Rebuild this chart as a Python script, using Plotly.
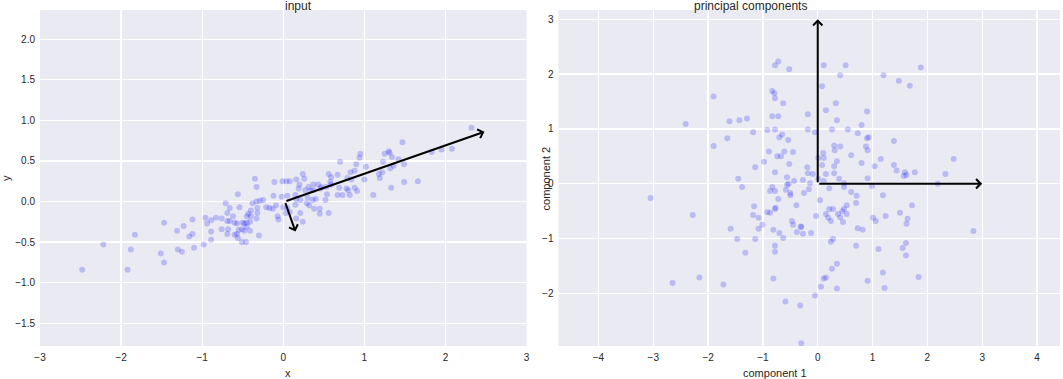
import plotly.graph_objects as go

# ---------------- data ----------------
input_x = [-1.47, -1.23, -1.12, -1.31, -1.16, -1.12, -1.10, -1.83, -2.22, -1.88, -1.51, -1.30, -1.25, -1.47, -1.92, -2.48,
           -0.56, -0.71, -0.66, -0.54, -0.62, -0.69, -0.96, -0.89, -0.83, -0.76, -0.69, -0.66, -0.60, -0.57, -0.50, -0.94,
           -0.76, -0.68, -0.55, -0.51, -0.89, -0.69, -0.60, -0.56, -0.57, -0.89, -0.98, -0.51,
           -0.35, -0.33, -0.11, -0.01, 0.04, 0.08, -0.12, -0.02, 0.05, -0.25, -0.29, -0.33, -0.38, -0.21, -0.17, -0.13,
           -0.09, 0.00, 0.03, 0.05, -0.32, -0.32, -0.40, -0.43, -0.40, -0.45, -0.33, -0.41, -0.45, -0.48, -0.45, -0.48,
           -0.07, -0.06, -0.41, -0.30, -0.46, 0.08,
           0.95, 0.94, 0.70, 0.90, 0.88, 0.83, 0.56, 0.67, 0.24, 0.26, 0.16, 0.59, 0.58, 0.79, 0.84, 0.31, 0.37, 0.43,
           0.47, 0.53, 0.59, 0.20, 0.19, 0.27, 0.34, 0.37, 0.46, 0.69, 0.78, 0.80, 0.88, 0.91, 0.54, 0.67, 0.73, 0.82,
           0.15, 0.16, 0.21, 0.30, 0.36, 0.40, 0.52, 0.29, 0.32, 0.38, 0.45, 0.15, 0.21, 0.45, 0.56, 0.16, 0.24,
           2.32, 1.47, 1.30, 1.25, 1.31, 1.34, 1.42, 1.23, 1.49, 1.36, 1.32, 1.83, 1.95, 2.08, 1.02, 1.00, 1.22, 1.18,
           1.19, 1.33, 1.49, 1.66, 1.11]
input_y = [-0.26, -0.30, -0.22, -0.36, -0.43, -0.40, -0.57, -0.41, -0.53, -0.59, -0.64, -0.59, -0.62, -0.75, -0.84, -0.84,
           0.09, -0.02, -0.08, -0.07, -0.18, -0.14, -0.20, -0.23, -0.20, -0.21, -0.24, -0.24, -0.26, -0.27, -0.26, -0.27,
           -0.34, -0.34, -0.35, -0.34, -0.37, -0.40, -0.41, -0.45, -0.40, -0.47, -0.53, -0.50,
           0.28, 0.18, 0.24, 0.25, 0.25, 0.25, 0.07, 0.06, 0.07, 0.02, 0.01, 0.00, -0.02, -0.07, -0.08, -0.09,
           -0.05, -0.07, -0.14, -0.08, -0.08, -0.14, -0.11, -0.15, -0.18, -0.18, -0.21, -0.25, -0.26, -0.27, -0.31, -0.36,
           -0.18, -0.22, -0.36, -0.42, -0.50, -0.13,
           0.59, 0.54, 0.49, 0.46, 0.38, 0.36, 0.34, 0.33, 0.34, 0.28, 0.27, 0.30, 0.24, 0.29, 0.27, 0.18, 0.21, 0.21,
           0.18, 0.18, 0.21, 0.21, 0.16, 0.14, 0.14, 0.14, 0.16, 0.17, 0.16, 0.14, 0.17, 0.13, 0.09, 0.08, 0.08, 0.08,
           0.08, 0.03, 0.02, 0.05, 0.02, 0.03, 0.02, -0.02, -0.05, -0.09, -0.09, -0.04, -0.14, -0.15, -0.14, -0.21, -0.25,
           0.91, 0.73, 0.62, 0.59, 0.60, 0.55, 0.52, 0.49, 0.46, 0.44, 0.41, 0.61, 0.64, 0.65, 0.43, 0.27, 0.36, 0.34,
           0.29, 0.17, 0.24, 0.25, 0.08]

pc_x = [-1.90, -2.41, -1.61, -1.43, -1.29, -1.18, -1.65, -1.90, -1.14, -1.45, -1.38, -3.05,
        -0.72, -0.78, -0.52, 0.11, 0.51, 0.41, 0.08, -0.83, -0.79, -0.78, -0.63, 0.33, 0.15, -0.18, 0.90, 0.35,
        -0.83, -0.72, 0.80, -0.92, -0.78, -0.18, -0.05, 0.26, 0.55, 0.73, 0.93, 0.90, -0.65, -0.70, -0.54, 0.30,
        0.41, 0.31, 0.88, 0.91, -0.89, -0.61, -0.45, -0.74, -0.67, 0.10, 0.01, 0.11, 0.61, 0.35, 0.80, -0.98,
        -0.78, -0.52, -0.19, 0.08, 0.30, -0.18, -0.09, 0.15, 0.30, -0.56, -0.43, -0.27, -0.14, 0.01, 0.11, 0.39,
        0.48, -0.56, -0.53, -0.83, -0.87, -0.78, -0.58, -0.50, -0.50, -0.25, -0.16, 0.21, 0.48, 0.61, 0.71, -0.72, 0.04,
        1.88, 1.20, 1.48, 1.68, 1.39, 1.15, 1.04, 1.39, 1.44, 1.59, 1.57, 1.62, 1.77, 2.48, 2.33, 2.19, 0.91, 0.99, 1.19,
        -2.28, -1.59, -1.47, -1.32, -2.16, -2.65, -1.72,
        0.70, 0.53, -0.39, -1.16, -0.92, -0.87, -0.78, -0.77, -1.18, -1.08, -1.01, -1.08, -1.14, 0.21, 0.28, 0.15,
        0.19, 0.24, 0.37, 0.41, 0.45, 0.48, 0.53, 0.46, -0.03, -0.47, -0.45, -0.30, -0.31, -0.38, -0.27, -0.12,
        -0.81, -0.70, -0.63, 0.73, 0.82, 0.28, 0.24, 0.70, -0.78, -0.78, 0.35, 0.26, 0.11, 0.15, -0.81, 0.91,
        0.06, 0.35, -0.05, -0.59, -0.32, -0.30,
        1.72, 1.50, 1.01, 1.06, 1.24, 1.64, 1.62, 2.84, 1.61, 1.55, 1.11, 1.61, 1.19, 1.84, 1.22]
pc_y = [1.59, 1.09, 1.14, 1.16, 1.19, 0.94, 0.83, 0.69, 0.30, 0.09, -0.06, -0.26,
        2.23, 2.16, 2.09, 2.16, 2.16, 1.98, 1.78, 1.69, 1.65, 1.56, 1.47, 1.47, 1.34, 1.27, 1.32, 1.16,
        1.23, 1.23, 1.07, 0.98, 0.99, 0.99, 0.94, 0.99, 0.99, 0.92, 0.85, 0.83, 0.90, 0.85, 0.80, 0.70,
        0.68, 0.61, 0.68, 0.61, 0.59, 0.59, 0.58, 0.50, 0.50, 0.56, 0.47, 0.47, 0.52, 0.41, 0.38, 0.40,
        0.21, 0.36, 0.30, 0.34, 0.32, 0.19, 0.18, 0.18, 0.19, 0.12, 0.05, 0.07, 0.01, 0.09, 0.05, 0.09,
        0.01, -0.02, 0.00, -0.06, -0.13, -0.13, -0.11, -0.17, -0.21, -0.17, -0.10, -0.08, -0.06, -0.15, -0.22, -0.28, -0.30,
        2.12, 1.98, 1.88, 1.79, 0.78, 0.45, 0.32, 0.34, 0.24, 0.21, 0.14, 0.16, 0.21, 0.45, 0.18, 0.00, 0.10, -0.04, -0.21,
        -0.57, -0.82, -1.01, -1.26, -1.71, -1.81, -1.84,
        -0.35, -0.39, -0.39, -0.41, -0.52, -0.53, -0.46, -0.44, -0.57, -0.62, -0.75, -0.82, -1.01, -0.46, -0.46, -0.55,
        -0.62, -0.68, -0.55, -0.61, -0.50, -0.46, -0.55, -0.70, -0.59, -0.68, -0.75, -0.79, -0.78, -0.88, -0.91, -0.90,
        -0.84, -0.90, -0.99, -0.81, -0.84, -1.01, -1.06, -1.13, -1.13, -1.24, -1.46, -1.55, -1.73, -1.71, -1.73, -1.77,
        -1.88, -1.91, -2.04, -2.15, -2.22, -2.91,
        -0.39, -0.53, -0.62, -0.68, -0.59, -0.64, -0.73, -0.86, -1.08, -1.17, -1.19, -1.31, -1.62, -1.70, -1.90]

# arrows: (tail_x, tail_y, head_x, head_y)
input_arrows = [(0.02, 0.0, 2.48, 0.86), (0.02, 0.0, 0.15, -0.37)]
pc_arrows = [(0, 0, 0, 3), (0, 0, 3, 0)]

left_xticks = [-3, -2, -1, 0, 1, 2, 3]
left_yticks = [-1.5, -1.0, -0.5, 0.0, 0.5, 1.0, 1.5, 2.0]
right_xticks = [-4, -3, -2, -1, 0, 1, 2, 3, 4]
right_yticks = [-3, -2, -1, 0, 1, 2, 3]

# ---------------- figure ----------------
W, H = 1063, 379
ML, MR, MT, MB = 40, 0, 10, 33
pw = W - ML - MR
ph = H - MT - MB
BG = "#EAEAF2"
TXT = "#262626"
FONT = "Liberation Sans, Arial, sans-serif"

fig = go.Figure()
marker = dict(size=6, color="rgba(0,0,255,0.2)", line=dict(width=0))
fig.add_trace(go.Scatter(x=input_x, y=input_y, mode="markers", marker=marker,
                         xaxis="x", yaxis="y", showlegend=False, hoverinfo="skip"))
fig.add_trace(go.Scatter(x=pc_x, y=pc_y, mode="markers", marker=marker,
                         xaxis="x2", yaxis="y2", showlegend=False, hoverinfo="skip"))

annotations = []
for (tx, ty, hx, hy) in input_arrows:
    annotations.append(dict(x=hx, y=hy, ax=tx, ay=ty, xref="x", yref="y", axref="x", ayref="y",
                            text="", showarrow=True, arrowhead=4, arrowsize=0.9, arrowwidth=2,
                            arrowcolor="black", standoff=0, startstandoff=0))
for (tx, ty, hx, hy) in pc_arrows:
    annotations.append(dict(x=hx, y=hy, ax=tx, ay=ty, xref="x2", yref="y2", axref="x2", ayref="y2",
                            text="", showarrow=True, arrowhead=4, arrowsize=0.9, arrowwidth=2,
                            arrowcolor="black", standoff=0, startstandoff=0))

d1 = [0, (528 - ML) / pw]
d2 = [(560 - ML) / pw, 1]


def center(d):
    return (d[0] + d[1]) / 2


tfont = dict(family=FONT, size=11, color=TXT)
annotations += [
    dict(text="input", x=center(d1), y=1, xref="paper", yref="paper", yanchor="bottom",
         yshift=-5, showarrow=False, font=dict(family=FONT, size=12, color=TXT)),
    dict(text="principal components", x=center(d2), y=1, xref="paper", yref="paper", yanchor="bottom",
         yshift=-5, showarrow=False, font=dict(family=FONT, size=12, color=TXT)),
    dict(text="x", x=center(d1), y=0, xref="paper", yref="paper", yanchor="middle",
         yshift=-27, showarrow=False, font=tfont),
    dict(text="component 1", x=center(d2), y=0, xref="paper", yref="paper", yanchor="middle",
         yshift=-27, showarrow=False, font=tfont),
    dict(text="y", x=d1[0], y=0.5, xref="paper", yref="paper", xanchor="center",
         xshift=-34, textangle=-90, showarrow=False, font=tfont),
    dict(text="component 2", x=d2[0], y=0.5, xref="paper", yref="paper", xanchor="center",
         xshift=-12, textangle=-90, showarrow=False, font=tfont),
]

axis_common = dict(showgrid=True, gridcolor="white", gridwidth=1.3, zeroline=False, showline=False,
                   ticks="", tickfont=dict(family=FONT, size=10, color=TXT), fixedrange=True,
                   ticklabelstandoff=4)

fig.update_layout(
    width=W, height=H,
    margin=dict(l=ML, r=MR, t=MT, b=MB, pad=0),
    paper_bgcolor="white", plot_bgcolor=BG,
    xaxis=dict(domain=d1, range=[-3, 3], tickvals=left_xticks, anchor="y", **axis_common),
    yaxis=dict(domain=[0, 1], range=[-1.78, 2.36], tickvals=left_yticks, tickformat=".1f",
               anchor="x", **axis_common),
    xaxis2=dict(domain=d2, range=[-4.73, 4.42], tickvals=right_xticks, anchor="y2", **axis_common),
    yaxis2=dict(domain=[0, 1], range=[-2.96, 3.17], tickvals=right_yticks, anchor="x2", **axis_common),
    annotations=annotations,
    showlegend=False,
)

fig.write_html("out.html", config={"displayModeBar": False, "staticPlot": True})

# remove the default page margin so the figure sits at the window's top-left corner
with open("out.html", "r", encoding="utf-8") as f:
    html = f.read()
html = html.replace("<head>", "<head><style>html,body{margin:0;padding:0;overflow:hidden;}</style>", 1)
with open("out.html", "w", encoding="utf-8") as f:
    f.write(html)
